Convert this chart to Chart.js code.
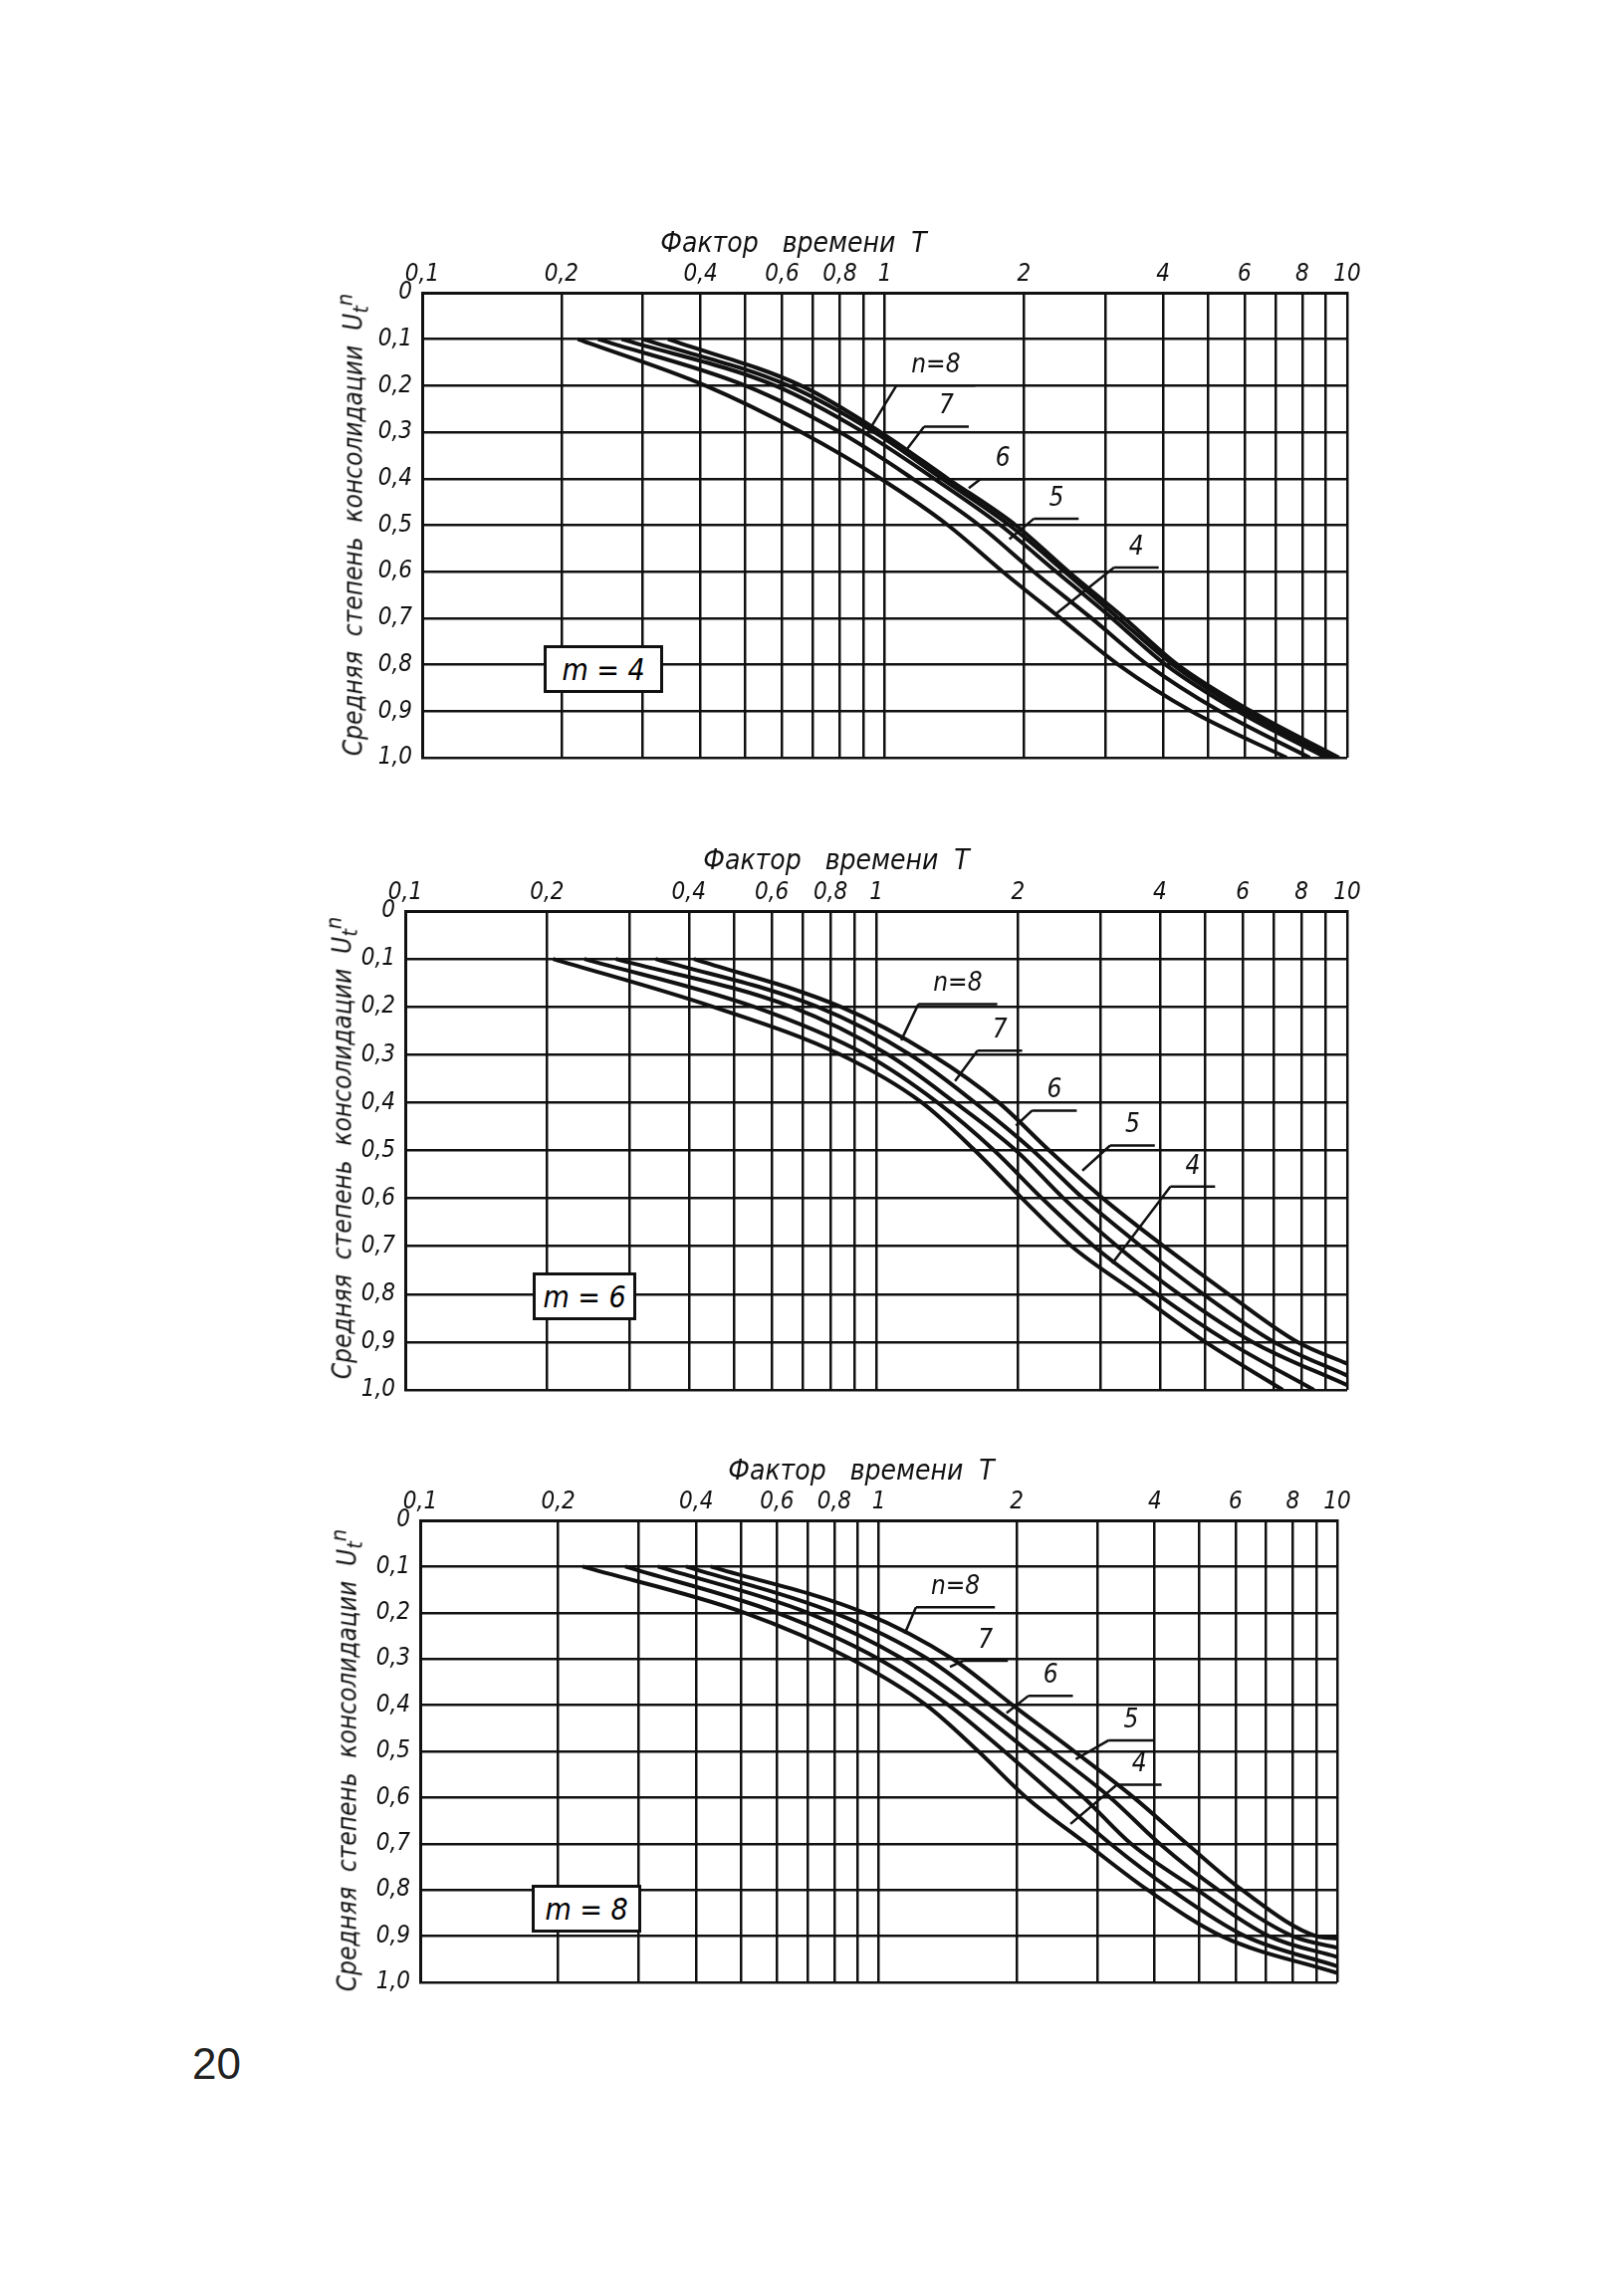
<!DOCTYPE html>
<html><head><meta charset="utf-8">
<script src="https://cdn.jsdelivr.net/npm/chart.js@4/dist/chart.umd.min.js"></script>
<style>
body{margin:0;background:#fff;width:1631px;height:2302px;position:relative;overflow:hidden;font-family:"DejaVu Sans Condensed","DejaVu Sans",sans-serif;}
.cv{position:absolute;left:0;width:1631px;}
.t{position:absolute;font-style:italic;color:#111;white-space:nowrap;transform:translate(-50%,-50%);}
.yt{position:absolute;font-style:italic;color:#111;white-space:nowrap;transform:translate(-50%,-50%) rotate(-90deg);}
.box{position:absolute;border:3px solid #111;background:#fff;font-style:italic;font-size:30px;display:flex;align-items:center;justify-content:center;box-sizing:border-box;}
</style></head><body>
<div class="cv" style="top:200px;height:600px"><canvas id="c1"></canvas></div>
<div class="cv" style="top:830px;height:600px"><canvas id="c2"></canvas></div>
<div class="cv" style="top:1440px;height:600px"><canvas id="c3"></canvas></div>
<div class="t" style="left:797px;top:243px;font-size:28px">Фактор&nbsp;&nbsp; времени&nbsp; T</div>
<div class="t" style="left:840px;top:863px;font-size:28px">Фактор&nbsp;&nbsp; времени&nbsp; T</div>
<div class="t" style="left:865px;top:1476px;font-size:28px">Фактор&nbsp;&nbsp; времени&nbsp; T</div>
<div class="yt" style="left:354px;top:527px;font-size:26px">Средняя&nbsp; степень&nbsp; консолидации&nbsp; U<sub>t</sub><sup>n</sup></div>
<div class="yt" style="left:343px;top:1153px;font-size:26px">Средняя&nbsp; степень&nbsp; консолидации&nbsp; U<sub>t</sub><sup>n</sup></div>
<div class="yt" style="left:348px;top:1768px;font-size:26px">Средняя&nbsp; степень&nbsp; консолидации&nbsp; U<sub>t</sub><sup>n</sup></div>
<div class="box" style="left:546px;top:648px;width:120px;height:48px">m = 4</div>
<div class="box" style="left:535px;top:1278px;width:104px;height:48px">m = 6</div>
<div class="box" style="left:534px;top:1893px;width:110px;height:48px">m = 8</div>
<div style="position:absolute;left:193px;top:2048px;font-size:44px;color:#222;font-family:'Liberation Sans',sans-serif">20</div>
<script>
// ---- data ----
const xTickValues = [0.1,0.2,0.3,0.4,0.5,0.6,0.7,0.8,0.9,1,2,3,4,5,6,7,8,9,10];
const xTickLabels = {0.1:"0,1",0.2:"0,2",0.4:"0,4",0.6:"0,6",0.8:"0,8",1:"1",2:"2",4:"4",6:"6",8:"8",10:"10"};
const seriesNames = ["4","5","6","7","8"];
const uLevels = [0.1,0.2,0.3,0.4,0.5,0.6,0.7,0.8,0.9];

const m4_T = {
  "4":[0.217,0.41,0.66,0.98,1.37,1.8,2.4,3.2,4.6,7.4],
  "5":[0.24,0.5,0.8,1.15,1.6,2.1,2.8,3.7,5.3,8.3],
  "6":[0.27,0.58,0.9,1.28,1.78,2.35,3.1,4.05,5.8,9.0],
  "7":[0.3,0.62,0.95,1.33,1.86,2.45,3.2,4.2,6.0,9.3],
  "8":[0.34,0.66,0.98,1.37,1.92,2.5,3.3,4.3,6.2,9.6]};
const m4_end = {"4":1.0,"5":1.0,"6":1.0,"7":1.0,"8":1.0};

const m6_T = {
  "4":[0.206,0.45,0.84,1.25,1.62,2.04,2.6,3.6,5.0,7.3],
  "5":[0.24,0.55,0.95,1.35,1.78,2.25,2.9,3.95,5.6,8.5],
  "6":[0.28,0.66,1.06,1.47,1.98,2.5,3.25,4.4,6.3,10],
  "7":[0.34,0.75,1.18,1.62,2.15,2.75,3.65,4.95,7.0,10],
  "8":[0.41,0.84,1.31,1.82,2.33,3.03,4.08,5.6,7.85,10]};
const m6_end = {"4":1.0,"5":1.0,"6":0.99,"7":0.97,"8":0.945};

const m8_T = {
  "4":[0.226,0.51,0.87,1.27,1.65,2.1,2.84,3.86,5.6,10],
  "5":[0.28,0.6,1.0,1.42,1.88,2.45,3.2,4.35,6.3,10],
  "6":[0.33,0.7,1.13,1.58,2.12,2.8,3.55,4.95,7.1,10],
  "7":[0.38,0.8,1.28,1.75,2.38,3.2,4.1,5.5,8.0,10],
  "8":[0.43,0.93,1.45,1.96,2.67,3.6,4.7,6.2,9.0,10]};
const m8_end = {"4":0.98,"5":0.965,"6":0.945,"7":0.925,"8":0.905};

// curve labels: [text, textT, textU, targetT, targetU]
const m4_labels = [["n=8",1.29,0.157,0.92,0.30],["7",1.36,0.245,1.12,0.335],["6",1.8,0.358,1.52,0.42],["5",2.35,0.443,1.86,0.53],["4",3.5,0.548,2.35,0.69]];
const m6_labels = [["n=8",1.49,0.153,1.13,0.27],["7",1.83,0.25,1.47,0.355],["6",2.39,0.375,1.98,0.448],["5",3.5,0.448,2.74,0.542],["4",4.7,0.534,3.17,0.736]];
const m8_labels = [["n=8",1.47,0.145,1.14,0.245],["7",1.71,0.261,1.43,0.317],["6",2.37,0.337,1.9,0.417],["5",3.55,0.433,2.69,0.517],["4",3.7,0.529,2.62,0.657]];

const FONT = '"DejaVu Sans Condensed","DejaVu Sans",sans-serif';

const labelPlugin = {
  id:'curveLabels',
  afterDatasetsDraw(chart, args, opts){
    const {ctx, scales:{x,y}} = chart;
    ctx.save();
    ctx.font = 'italic 26px '+FONT;
    ctx.fillStyle='#111'; ctx.strokeStyle='#111'; ctx.lineWidth=2.5;
    ctx.textAlign='center'; ctx.textBaseline='middle';
    for (const [txt,tT,tU,gT,gU] of opts.items){
      const px=x.getPixelForValue(tT), py=y.getPixelForValue(tU);
      ctx.fillText(txt,px,py);
      const w=ctx.measureText(txt).width+30;
      const uy=py+20;
      ctx.beginPath();
      ctx.moveTo(px-w/2,uy); ctx.lineTo(px+w/2,uy);
      ctx.moveTo(px-w/2,uy); ctx.lineTo(x.getPixelForValue(gT),y.getPixelForValue(gU));
      ctx.stroke();
    }
    ctx.restore();
  }
};

function build(id, canvasTop, plot, Tset, endSet, labels){
  const datasets = seriesNames.map(n=>{
    const Ts = Tset[n];
    const pts = Ts.map((t,i)=>({x:t, y: i<uLevels.length ? uLevels[i] : endSet[n]}));
    return {label:'n='+n, data:pts, borderColor:'#111', borderWidth:4, pointRadius:0, fill:false, cubicInterpolationMode:'monotone'};
  });
  new Chart(document.getElementById(id), {
    type:'line',
    data:{datasets},
    options:{
      responsive:true, maintainAspectRatio:false, animation:false,
      layout:{padding:{left:0,top:0,right:1631-plot.right,bottom:canvasTop+600-plot.bottom}},
      plugins:{legend:{display:false},tooltip:{enabled:false},curveLabels:{items:labels}},
      scales:{
        x:{type:'logarithmic',position:'top',min:0.1,max:10,
          afterBuildTicks(s){s.ticks=xTickValues.map(v=>({value:v}));},
          afterFit(s){s.height=plot.top-canvasTop;},
          ticks:{autoSkip:false,maxRotation:0,padding:4,color:'#111',font:{family:FONT,size:24,style:'italic'},
            callback:(v)=>xTickLabels[v]!==undefined?xTickLabels[v]:''},
          grid:{color:'#111',lineWidth:2.5,drawTicks:false},
          border:{color:'#111',width:3}},
        y:{type:'linear',reverse:true,min:0,max:1,
          afterFit(s){s.width=plot.left;},
          ticks:{stepSize:0.1,padding:10,color:'#111',font:{family:FONT,size:24,style:'italic'},
            callback:(v)=>{const r=Math.round(v*10)/10; return r===0?'0':r.toFixed(1).replace('.',',');}},
          grid:{color:'#111',lineWidth:2.5,drawTicks:false},
          border:{color:'#111',width:3}}
      }
    },
    plugins:[labelPlugin]
  });
}
build('c1',200,{left:424,right:1353,top:294,bottom:761},m4_T,m4_end,m4_labels);
build('c2',830,{left:407,right:1353,top:915,bottom:1396},m6_T,m6_end,m6_labels);
build('c3',1440,{left:422,right:1343,top:1527,bottom:1991},m8_T,m8_end,m8_labels);
</script>
</body></html>
